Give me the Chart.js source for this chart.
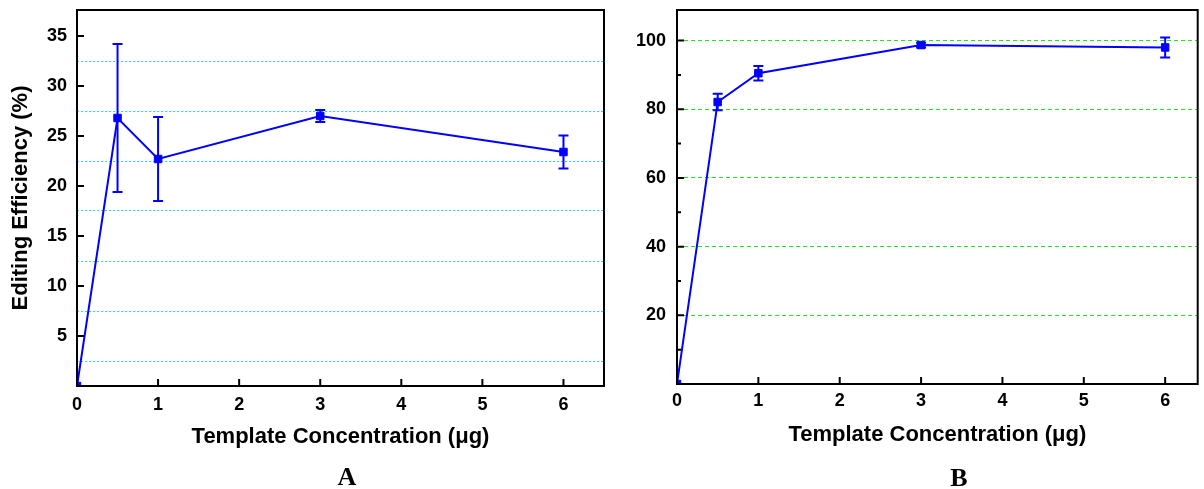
<!DOCTYPE html>
<html>
<head>
    <title>Editing Efficiency vs Template Concentration</title>
    <script src="https://cdn.jsdelivr.net/npm/chart.js"></script>
    <style>
        body {
            margin: 0;
            background: #fff;
            font-family: "Liberation Sans", Arial, sans-serif;
        }
        .panel {
            position: absolute;
            top: 0;
            height: 489px;
        }
        .letter {
            position: absolute;
            font-family: "Liberation Serif", "Times New Roman", serif;
            font-weight: bold;
            font-size: 26px;
            transform: translate(-50%, -50%);
        }
    </style>
</head>
<body>
    <div class="panel" style="left:0;width:612px"><canvas id="chartA"></canvas></div>
    <div class="panel" style="left:612px;width:592px"><canvas id="chartB"></canvas></div>
    <div class="letter" style="left:347px;top:477px">A</div>
    <div class="letter" style="left:959px;top:478px">B</div>

    <script>
        // data
        const concentrations = [0, 0.5, 1, 3, 6];
        const efficiencyA = [0, 26.8, 22.7, 27.0, 23.4];
        const errorA = [0, 7.4, 4.2, 0.6, 1.65];
        const efficiencyB = [0, 82.1, 90.5, 98.7, 98.0];
        const errorB = [0, 2.4, 2.1, 0.7, 2.9];

        // axis ticks
        const xTicks = [0, 1, 2, 3, 4, 5, 6];
        const yLabelsA = [5, 10, 15, 20, 25, 30, 35];
        const yGridA = [2.5, 7.5, 12.5, 17.5, 22.5, 27.5, 32.5];
        const yLabelsB = [20, 40, 60, 80, 100];
        const yMinorB = [10, 30, 50, 70, 90];

        const BLUE = '#0000ff';
        const tickFont = { family: '"Liberation Sans", Arial, sans-serif', size: 18, weight: 'bold' };
        const titleFont = { family: '"Liberation Sans", Arial, sans-serif', size: 22, weight: 'bold' };

        // error bars, plot frame and inward tick marks
        const decorations = {
            id: 'decorations',
            afterDatasetsDraw(chart, args, opts) {
                const { ctx, chartArea: a, scales: { x, y } } = chart;
                const pts = chart.data.datasets[0].data;
                ctx.save();

                ctx.strokeStyle = BLUE;
                ctx.lineWidth = 2;
                opts.errors.forEach((e, i) => {
                    if (!e) return;
                    const px = x.getPixelForValue(pts[i].x);
                    const top = y.getPixelForValue(pts[i].y + e);
                    const bot = y.getPixelForValue(pts[i].y - e);
                    ctx.beginPath();
                    ctx.moveTo(px, top); ctx.lineTo(px, bot);
                    ctx.moveTo(px - 5, top); ctx.lineTo(px + 5, top);
                    ctx.moveTo(px - 5, bot); ctx.lineTo(px + 5, bot);
                    ctx.stroke();
                });

                ctx.strokeStyle = '#000';
                ctx.lineWidth = 2;
                ctx.strokeRect(a.left, a.top, a.width, a.height);

                ctx.beginPath();
                xTicks.forEach(v => {
                    const px = x.getPixelForValue(v);
                    ctx.moveTo(px, a.bottom); ctx.lineTo(px, a.bottom - 7);
                });
                opts.yMajor.forEach(v => {
                    const py = y.getPixelForValue(v);
                    ctx.moveTo(a.left, py); ctx.lineTo(a.left + 7, py);
                });
                (opts.yMinor || []).forEach(v => {
                    const py = y.getPixelForValue(v);
                    ctx.moveTo(a.left, py); ctx.lineTo(a.left + 4, py);
                });
                ctx.stroke();
                ctx.restore();
            }
        };

        function makeChart(id, cfg) {
            const data = concentrations.map((c, i) => ({ x: c, y: cfg.values[i] }));
            const yTickValues = [...new Set(cfg.yGrid.concat(cfg.yLabels))].sort((p, q) => p - q);
            return new Chart(document.getElementById(id), {
                type: 'line',
                data: {
                    datasets: [{
                        data: data,
                        borderColor: BLUE,
                        borderWidth: 2,
                        backgroundColor: BLUE,
                        pointStyle: 'rect',
                        pointRadius: 5.3,
                        pointBorderWidth: 1,
                        pointBackgroundColor: BLUE,
                        pointBorderColor: BLUE,
                        tension: 0
                    }]
                },
                options: {
                    responsive: true,
                    maintainAspectRatio: false,
                    animation: false,
                    layout: { padding: { top: 10, right: cfg.padRight, left: 0, bottom: 0 } },
                    plugins: {
                        legend: { display: false },
                        tooltip: { enabled: false },
                        decorations: { errors: cfg.errors, yMajor: cfg.yLabels, yMinor: cfg.yMinor }
                    },
                    scales: {
                        x: {
                            type: 'linear',
                            min: 0,
                            max: cfg.xMax,
                            afterBuildTicks: s => { s.ticks = xTicks.map(v => ({ value: v })); },
                            afterFit: s => {
                                s.height = cfg.xHeight;
                                s.paddingLeft = 0;
                                s.paddingRight = 0;
                            },
                            grid: { display: false, drawTicks: false },
                            border: { display: false },
                            ticks: { color: '#000', font: tickFont, padding: cfg.xTickPad, maxRotation: 0, autoSkip: false },
                            title: {
                                display: true,
                                text: 'Template Concentration (μg)',
                                color: '#000',
                                font: titleFont,
                                padding: { top: 0, bottom: cfg.xTitlePad }
                            }
                        },
                        y: {
                            min: 0,
                            max: cfg.yMax,
                            afterBuildTicks: s => { s.ticks = yTickValues.map(v => ({ value: v })); },
                            afterFit: s => {
                                s.width = cfg.yWidth;
                                s.paddingTop = 0;
                                s.paddingBottom = 0;
                            },
                            grid: {
                                drawTicks: false,
                                lineWidth: 1,
                                color: c => cfg.yGrid.includes(c.tick.value) ? cfg.gridColor : 'rgba(0,0,0,0)'
                            },
                            border: { display: false, dash: cfg.gridDash },
                            ticks: {
                                color: '#000',
                                font: tickFont,
                                padding: cfg.yTickPad,
                                autoSkip: false,
                                callback: v => cfg.yLabels.includes(v) ? String(v) : ''
                            },
                            title: {
                                display: cfg.yTitle !== '',
                                text: cfg.yTitle,
                                color: '#000',
                                font: titleFont,
                                padding: { top: 8, bottom: 0 }
                            }
                        }
                    }
                },
                plugins: [decorations]
            });
        }

        makeChart('chartA', {
            values: efficiencyA,
            errors: errorA,
            xMax: 6.5,
            yMax: 37.6,
            yLabels: yLabelsA,
            yGrid: yGridA,
            yMinor: [],
            gridColor: '#22dcef',
            gridDash: [2, 2],
            padRight: 8,
            yWidth: 77,
            xHeight: 103,
            xTickPad: 8,
            yTickPad: 10,
            xTitlePad: 39,
            yTitle: 'Editing Efficiency (%)'
        });

        makeChart('chartB', {
            values: efficiencyB,
            errors: errorB,
            xMax: 6.4,
            yMax: 108.9,
            yLabels: yLabelsB,
            yGrid: yLabelsB,
            yMinor: yMinorB,
            gridColor: '#22e622',
            gridDash: [4, 3],
            padRight: 2,
            yWidth: 65,
            xHeight: 105,
            xTickPad: 6,
            yTickPad: 11,
            xTitlePad: 41,
            yTitle: ''
        });
    </script>
</body>
</html>
